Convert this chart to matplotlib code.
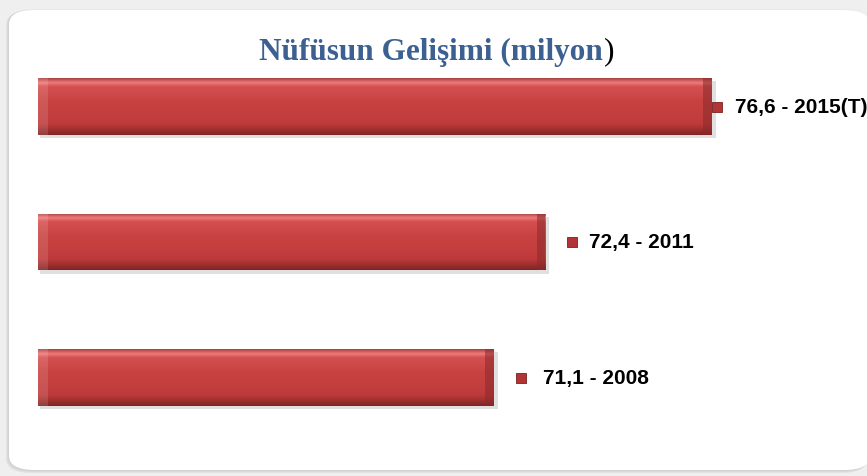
import numpy as np
import matplotlib.pyplot as plt
from matplotlib.patches import FancyBboxPatch
from matplotlib.colors import LinearSegmentedColormap
import matplotlib.transforms as mtransforms

# data (bottom to top)
years = ['2008', '2011', '2015(T)']
values = [71.1, 72.4, 76.6]
labels = ['71,1 - 2008', '72,4 - 2011', '76,6 - 2015(T)']
title = 'Nüfüsun Gelişimi (milyon'

W, H = 867, 477
fig = plt.figure(figsize=(W / 100, H / 100), dpi=100)
fig.patch.set_facecolor('#efefef')

# rounded white panel with a soft shadow
for k, a in enumerate([0.05, 0.04, 0.03]):
    sh = FancyBboxPatch(((9 - 3 + k) / W, (H - 474 + k) / H), (870 - 9) / W, (474 - 12) / H,
                        boxstyle='round,pad=0,rounding_size=0.03', transform=fig.transFigure,
                        facecolor='black', edgecolor='none', alpha=a, zorder=-2)
    fig.patches.append(sh)
panel = FancyBboxPatch((9 / W, (H - 471) / H), (870 - 9) / W, (471 - 11) / H,
                       boxstyle='round,pad=0,rounding_size=0.03', transform=fig.transFigure,
                       facecolor='white', edgecolor='none', zorder=-1)
fig.patches.append(panel)

# title, the closing bracket is plain black
t = fig.text(0.497, (H - 52) / H, title, ha='center', va='center',
             fontsize=22.5, fontweight='bold', family='Liberation Serif', color='#3b6091')
fig.canvas.draw()
bb = t.get_window_extent()
fig.text(bb.x1 / W + 0.001, (H - 52) / H, ')', ha='left', va='center',
         fontsize=22.5, family='Liberation Serif', color='black')

# axes placed so bars line up with the reference
left_px, bot_px, top_px = 38, 446.25, 39.75
ax = fig.add_axes([left_px / W, (H - bot_px) / H, (W - left_px) / W, (bot_px - top_px) / H])
ax.set_zorder(2)
ax.set_xlim(59.6, 59.6 + (W - left_px) * (76.6 - 59.6) / (712 - left_px))
ax.set_ylim(-0.5, 2.5)
ax.axis('off')
ax.patch.set_alpha(0)

x0 = ax.get_xlim()[0]
bh = 0.42
bars = ax.barh(range(len(values)), [v - x0 for v in values], left=x0, height=bh,
               color='#c73e3e', edgecolor='none', zorder=3)

# vertical shading of each bar: light top edge, darker bottom
cmap = LinearSegmentedColormap.from_list('bar', [
    (0.0, '#7f2424'), (0.08, '#9b2e2e'), (0.2, '#bf3b3b'), (0.6, '#c94242'),
    (0.85, '#d45050'), (0.92, '#f07a7a'), (1.0, '#a84040')])
grad = np.linspace(0, 1, 256).reshape(-1, 1)
for i, b in enumerate(bars):
    # drop shadow under the bar
    ax.barh(i - 0.025, values[i] - x0 + 0.05, left=x0 + 0.05, height=bh, color='black',
            alpha=0.12, edgecolor='none', zorder=2)
    im = ax.imshow(grad, cmap=cmap, aspect='auto', origin='lower', zorder=4,
                   extent=[x0, values[i], i - bh / 2, i + bh / 2])
    im.set_clip_path(b)
    # darker right end cap
    ax.barh(i, 0.22, left=values[i] - 0.22, height=bh, color='#8a2a2a', alpha=0.55,
            edgecolor='none', zorder=5)
    # lighter left cap
    ax.barh(i, 0.25, left=x0, height=bh, color='#ffffff', alpha=0.12,
            edgecolor='none', zorder=5)

# labels with small legend squares (pixel offsets from bar end)
marker_off = [27, 27, 5]
text_off = [49, 44, 23]
for i, v in enumerate(values):
    tm = mtransforms.offset_copy(ax.transData, fig=fig, x=marker_off[i] * 0.72, y=0, units='points')
    ax.plot([v], [i], marker='s', markersize=7.5, color='#b23434', markeredgecolor='#7a2020',
            markeredgewidth=0.6, transform=tm, clip_on=False, zorder=6)
    ax.annotate(labels[i], xy=(v, i), xytext=(text_off[i] * 0.72, 0), textcoords='offset points',
                ha='left', va='center', fontsize=15, fontweight='bold',
                family='Liberation Sans', color='black', annotation_clip=False)

fig.savefig('out.png', dpi=100, facecolor=fig.get_facecolor())
